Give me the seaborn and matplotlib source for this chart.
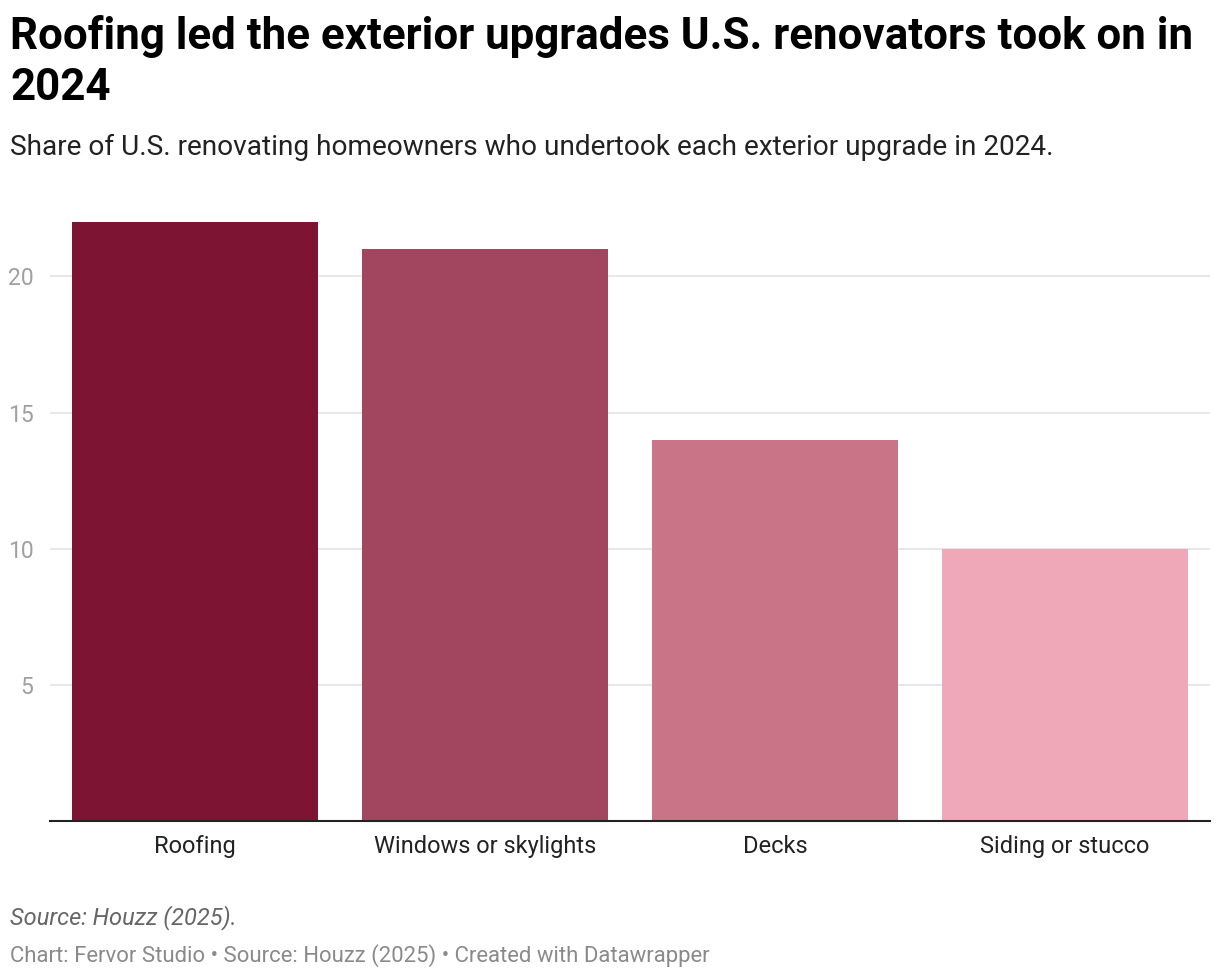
import matplotlib
matplotlib.use("Agg")
import matplotlib.pyplot as plt
import seaborn as sns
import pandas as pd

# Chart data
categories = ["Roofing", "Windows or skylights", "Decks", "Siding or stucco"]
shares = [22, 21, 14, 10]
bar_colors = ["#7d1434", "#a2465f", "#c97487", "#efa8b7"]
y_ticks = [5, 10, 15, 20]

title = "Roofing led the exterior upgrades U.S. renovators took on in\n2024"
subtitle = "Share of U.S. renovating homeowners who undertook each exterior upgrade in 2024."
source_note = "Source: Houzz (2025)."
footer = "Chart: Fervor Studio \u2022 Source: Houzz (2025) \u2022 Created with Datawrapper"

df = pd.DataFrame({"category": categories, "share": shares})

sns.set_theme(style="white")
plt.rcParams["font.family"] = ["Roboto", "DejaVu Sans"]

fig = plt.figure(figsize=(12.2, 9.8), dpi=100)
ax = fig.add_axes([50 / 1220, 1 - 821 / 980, 1160 / 1220, 599 / 980])

sns.barplot(data=df, x="category", y="share", hue="category", palette=bar_colors,
            width=0.848, legend=False, ax=ax, saturation=1, linewidth=0)

ax.set_xlim(-0.5, 3.5)
ax.set_ylim(0, 22)
ax.set_yticks(y_ticks)
ax.yaxis.grid(True, color="#e3e3e3", linewidth=1.2)
ax.set_axisbelow(True)
ax.set_xlabel("")
ax.set_ylabel("")

for side in ["top", "right", "left"]:
    ax.spines[side].set_visible(False)
ax.spines["bottom"].set_color("#222222")
ax.spines["bottom"].set_linewidth(1.5)

ax.tick_params(axis="x", length=0, pad=10, labelsize=17, labelcolor="#222222")
ax.tick_params(axis="y", length=0, pad=12, labelsize=16.5, labelcolor="#a0a0a0")

fig.text(10 / 1220, 1 - 15 / 980, title, fontsize=31.6, fontweight="bold",
         color="#000000", va="top", ha="left", linespacing=1.27)
fig.text(10 / 1220, 1 - 147 / 980, subtitle, fontsize=20.2, color="#222222",
         va="center", ha="left")
fig.text(10 / 1220, 1 - 918 / 980, source_note, fontsize=17, style="italic",
         color="#666666", va="center", ha="left")
fig.text(10 / 1220, 1 - 956 / 980, footer, fontsize=15.9, color="#8a8a8a",
         va="center", ha="left")

plt.savefig("out.png", dpi=100)
